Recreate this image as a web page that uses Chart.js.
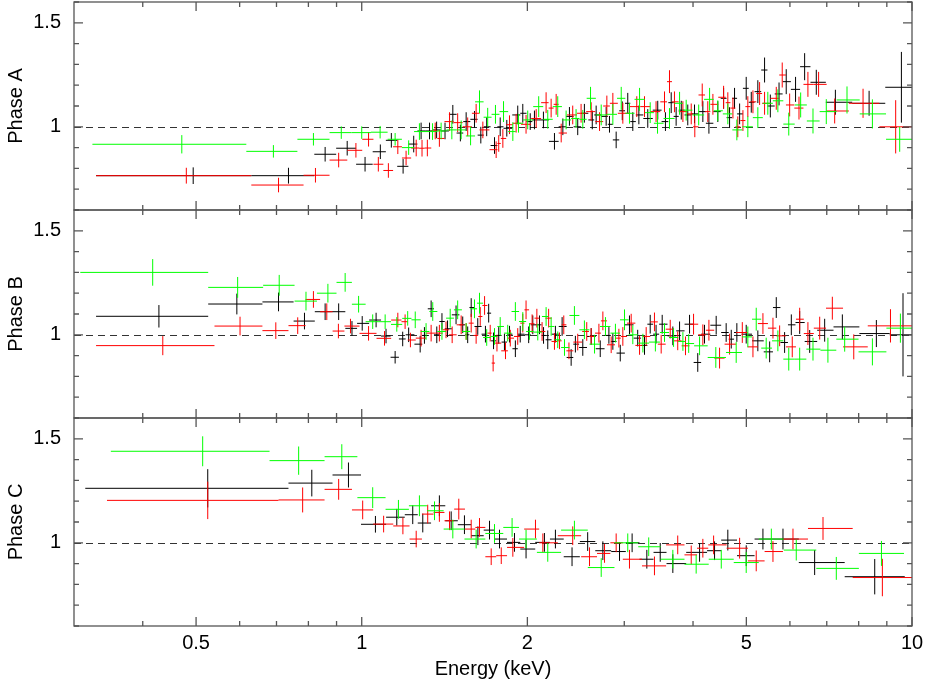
<!DOCTYPE html>
<html>
<head>
<meta charset="utf-8">
<title>Phase ratios</title>
<script src="https://cdn.jsdelivr.net/npm/chart.js@4.4.1/dist/chart.umd.min.js"></script>
<style>
  html,body{margin:0;padding:0;background:#fff;}
  #wrap{width:925px;height:679px;position:relative;}
</style>
</head>
<body>
<div id="wrap"><canvas id="chart"></canvas></div>
<script>
// each point: [energy keV, ratio, y error] or [energy, ratio, y error, bin low, bin high]
const aBlack = [
  [0.494,0.765,0.04,0.329,0.630],[0.736,0.765,0.038,0.630,0.820],[0.858,0.868,0.035],[0.941,0.897,0.035],
  [1.014,0.82,0.035],[1.081,0.88,0.035],[1.132,0.935,0.035],[1.189,0.81,0.035],[1.243,0.917,0.04],
  [1.282,0.98,0.04],[1.328,0.98,0.04],[1.368,0.985,0.04],[1.417,0.98,0.04],[1.464,1.06,0.045],
  [1.511,0.97,0.04],[1.548,1.025,0.045],[1.603,1.036,0.04],[1.646,0.96,0.04],[1.687,1.0,0.045],
  [1.743,0.91,0.04],[1.785,1.0,0.045],[1.835,0.993,0.04],[1.921,1.057,0.045],[1.962,1.065,0.045],
  [2.024,1.025,0.04],[2.060,1.033,0.045],[2.139,1.033,0.04],[2.240,0.93,0.04],[2.320,1.0,0.04],
  [2.385,1.05,0.045],[2.469,1.0,0.04],[2.539,1.065,0.045],[2.624,1.033,0.045],[2.667,1.057,0.045],
  [2.781,1.05,0.045],[2.820,1.012,0.04],[2.900,0.937,0.04],[2.975,1.077,0.045],[3.044,1.113,0.05],
  [3.109,1.025,0.045],[3.189,1.057,0.045],[3.310,1.04,0.045],[3.451,1.08,0.045],[3.564,1.025,0.045],
  [3.651,1.116,0.05],[3.727,1.05,0.045],[3.808,1.08,0.045],[3.913,1.057,0.05],[4.025,1.062,0.045],
  [4.168,1.073,0.05],[4.275,1.017,0.05],[4.437,1.073,0.05],[4.546,1.137,0.05],[4.661,1.044,0.05],
  [4.759,1.137,0.05],[4.861,1.062,0.05],[4.997,1.185,0.055],[5.104,1.118,0.05],[5.246,1.169,0.055],
  [5.396,1.273,0.06],[5.528,1.1,0.055],[5.733,1.158,0.055],[5.908,1.217,0.06],[6.143,1.18,0.06],
  [6.381,1.289,0.065],[6.700,1.214,0.06],[7.257,1.118,0.06],[8.357,1.113,0.06],[9.566,1.19,0.17]
];
const aRed = [
  [0.480,0.765,0.038,0.329,0.630],[0.706,0.72,0.035,0.630,0.784],[0.824,0.767,0.035,0.784,0.874],
  [0.908,0.84,0.035],[0.976,0.887,0.035],[1.029,0.94,0.035],[1.072,0.82,0.035],[1.118,0.79,0.035],
  [1.163,0.904,0.035],[1.204,0.85,0.035],[1.256,0.898,0.04],[1.287,0.897,0.04],[1.316,0.898,0.04],
  [1.360,0.98,0.04],[1.384,0.944,0.04],[1.444,1.025,0.045],[1.494,1.02,0.045],[1.558,1.0,0.045],
  [1.614,1.065,0.045],[1.660,0.985,0.04],[1.755,0.89,0.04],[1.774,0.92,0.04],[1.805,0.944,0.045],
  [1.856,1.01,0.045],[1.908,1.017,0.045],[1.989,1.012,0.045],[2.075,1.04,0.045],[2.163,1.116,0.05],
  [2.209,1.09,0.045],[2.256,1.108,0.05],[2.304,0.97,0.045],[2.418,1.057,0.045],[2.504,1.065,0.045],
  [2.612,1.073,0.045],[2.705,1.025,0.045],[2.789,1.10,0.05],[2.860,1.113,0.05],[2.982,1.065,0.05],
  [3.161,1.097,0.05],[3.265,1.097,0.05],[3.427,1.073,0.05],[3.550,1.12,0.05],[3.625,1.217,0.055],
  [3.701,1.12,0.05],[3.834,1.073,0.05],[3.970,1.062,0.05],[4.030,1.0,0.05],[4.157,1.153,0.055],
  [4.255,1.073,0.05],[4.347,1.108,0.05],[4.546,1.142,0.055],[4.627,1.116,0.05],[4.727,1.09,0.05],
  [4.824,1.0,0.05],[4.929,1.03,0.05],[5.031,1.097,0.05],[5.140,1.12,0.055],[5.285,1.16,0.055],
  [5.396,1.113,0.055],[5.667,1.137,0.055],[5.810,1.249,0.06],[5.993,1.105,0.055],[6.232,1.09,0.055],
  [6.469,1.204,0.06],[6.765,1.204,0.06],[7.236,1.076,0.06],[8.148,1.113,0.07],[9.34,1.0,0.128]
];
const aGreen = [
  [0.471,0.916,0.044,0.324,0.617],[0.691,0.882,0.03,0.617,0.764],[0.817,0.94,0.03,0.764,0.874],
  [0.918,0.972,0.03],[1.0,0.972,0.03],[1.080,0.974,0.03],[1.150,0.94,0.03],[1.217,0.90,0.035],
  [1.273,0.977,0.04],[1.345,0.977,0.04],[1.394,0.98,0.04],[1.458,0.985,0.045],[1.516,0.985,0.045],
  [1.577,0.956,0.045],[1.637,1.12,0.055],[1.694,1.046,0.045],[1.750,1.06,0.045],[1.810,1.073,0.05],
  [1.882,0.977,0.045],[1.927,1.017,0.045],[2.003,1.033,0.045],[2.097,1.097,0.05],[2.178,1.036,0.045],
  [2.271,1.097,0.05],[2.352,1.033,0.045],[2.452,1.04,0.045],[2.522,1.036,0.045],[2.605,1.137,0.055],
  [2.724,1.057,0.05],[2.860,1.06,0.05],[2.962,1.137,0.055],[3.066,1.065,0.05],[3.198,1.132,0.055],
  [3.344,1.068,0.05],[3.448,1.017,0.05],[3.625,1.04,0.05],[3.781,1.113,0.055],[3.887,1.08,0.05],
  [4.096,1.057,0.05],[4.287,1.132,0.055],[4.437,1.077,0.05],[4.627,1.062,0.05],[4.805,0.985,0.05],
  [5.031,1.0,0.05],[5.246,1.044,0.05],[5.470,1.113,0.055],[5.705,1.125,0.055],[5.971,1.013,0.055],
  [6.276,1.105,0.06],[6.608,1.028,0.06],[6.986,1.073,0.06],[7.619,1.129,0.065],[8.473,1.062,0.07],
  [9.498,0.94,0.06]
];
const bBlack = [
  [0.428,1.089,0.054,0.329,0.526],[0.593,1.148,0.05,0.526,0.660],[0.706,1.158,0.045,0.660,0.752],
  [0.787,1.066,0.04],[0.858,1.111,0.04],[0.908,1.111,0.04],[0.960,1.031,0.035],[1.002,1.055,0.035],
  [1.062,1.071,0.035],[1.107,0.994,0.035],[1.150,0.892,0.03],[1.187,0.98,0.035],[1.217,1.0,0.035],
  [1.277,0.955,0.04],[1.300,0.997,0.04],[1.337,1.125,0.04],[1.369,1.0,0.04],[1.399,1.064,0.04],
  [1.432,1.029,0.04],[1.484,1.096,0.045],[1.526,1.048,0.04],[1.558,1.0,0.04],[1.581,1.131,0.045],
  [1.625,1.04,0.04],[1.678,1.003,0.04],[1.701,1.104,0.045],[1.736,0.971,0.04],[1.774,0.997,0.04],
  [1.817,0.965,0.04],[1.856,1.003,0.04],[1.902,0.933,0.04],[1.941,1.003,0.04],[2.011,1.0,0.04],
  [2.046,1.048,0.045],[2.104,1.048,0.045],[2.140,0.997,0.04],[2.178,0.976,0.045],[2.249,1.003,0.04],
  [2.313,1.04,0.045],[2.402,0.891,0.04],[2.445,0.955,0.04],[2.522,0.939,0.04],[2.612,0.992,0.04],
  [2.713,0.933,0.04],[2.813,0.997,0.04],[2.860,0.968,0.04],[2.950,0.912,0.04],[3.066,1.048,0.045],
  [3.173,0.984,0.04],[3.265,0.949,0.045],[3.344,1.051,0.045],[3.427,1.003,0.045],[3.516,1.051,0.045],
  [3.676,0.995,0.045],[3.781,1.019,0.045],[3.942,1.051,0.045],[4.080,0.867,0.045],[4.197,1.003,0.045],
  [4.407,1.046,0.045],[4.595,1.011,0.045],[4.694,0.979,0.045],[4.805,1.011,0.045],[4.997,1.003,0.045],
  [5.246,0.971,0.05],[5.512,0.918,0.05],[5.667,1.131,0.05],[5.868,0.963,0.05],[6.035,1.048,0.05],
  [6.250,1.059,0.055],[6.517,0.968,0.055],[6.939,1.022,0.055],[7.472,1.038,0.06],[8.615,1.006,0.065],
  [9.631,1.0,0.2]
];
const bRed = [
  [0.435,0.948,0.046,0.329,0.540],[0.601,1.042,0.045,0.540,0.660],[0.698,1.02,0.04,0.660,0.736],
  [0.765,1.044,0.04],[0.817,1.17,0.04],[0.864,1.111,0.04],[0.907,1.018,0.035],[0.954,1.042,0.035],
  [1.029,1.007,0.035],[1.100,0.983,0.035],[1.163,1.071,0.035],[1.199,1.063,0.035],[1.226,0.975,0.035],
  [1.282,0.984,0.04],[1.337,1.008,0.04],[1.384,1.008,0.04],[1.423,1.024,0.04],[1.460,1.0,0.04],
  [1.516,1.048,0.045],[1.548,1.016,0.04],[1.581,1.056,0.045],[1.614,0.997,0.04],[1.642,1.088,0.045],
  [1.672,1.141,0.045],[1.712,1.008,0.04],[1.733,0.864,0.04],[1.761,0.96,0.04],[1.825,0.923,0.04],
  [1.862,0.984,0.04],[1.921,0.992,0.04],[1.962,1.056,0.045],[1.989,1.12,0.045],[2.040,1.053,0.045],
  [2.081,1.08,0.045],[2.127,1.016,0.045],[2.186,1.08,0.045],[2.240,0.968,0.04],[2.288,0.971,0.04],
  [2.329,1.048,0.045],[2.380,0.923,0.04],[2.469,0.965,0.04],[2.564,1.016,0.045],[2.612,0.992,0.04],
  [2.698,1.008,0.045],[2.743,1.067,0.045],[2.840,0.952,0.04],[2.933,0.984,0.045],[2.982,0.992,0.045],
  [3.088,1.056,0.045],[3.198,0.949,0.045],[3.288,0.992,0.045],[3.404,1.062,0.045],[3.501,0.955,0.045],
  [3.636,1.027,0.045],[3.752,0.971,0.045],[3.876,0.947,0.045],[4.009,1.051,0.05],[4.168,1.0,0.05],
  [4.275,1.022,0.05],[4.470,0.888,0.05],[4.661,0.955,0.05],[4.916,1.011,0.05],[5.140,0.942,0.05],
  [5.359,1.054,0.05],[5.589,1.032,0.05],[5.747,0.995,0.05],[6.059,0.942,0.05],[6.250,1.075,0.055],
  [6.469,1.006,0.055],[6.796,1.032,0.055],[7.165,1.128,0.055],[7.837,0.942,0.06],[9.139,1.043,0.08,8.31,10.0]
];
const bGreen = [
  [0.417,1.30,0.064,0.308,0.526],[0.595,1.228,0.05,0.526,0.662],[0.708,1.238,0.05,0.662,0.755],
  [0.792,1.162,0.045],[0.868,1.20,0.045],[0.933,1.252,0.045],[0.987,1.147,0.04],[1.047,1.063,0.035],
  [1.103,1.063,0.035],[1.158,1.05,0.035],[1.212,1.079,0.035],[1.251,1.072,0.04],[1.309,1.016,0.04],
  [1.346,1.112,0.045],[1.399,1.016,0.04],[1.448,1.08,0.045],[1.494,1.12,0.045],[1.548,1.016,0.04],
  [1.603,1.125,0.045],[1.637,1.152,0.05],[1.687,0.987,0.04],[1.743,0.992,0.04],[1.785,1.04,0.045],
  [1.842,1.008,0.04],[1.902,1.112,0.045],[1.962,1.064,0.045],[2.018,1.016,0.04],[2.089,1.013,0.04],
  [2.163,1.088,0.045],[2.209,1.04,0.045],[2.271,0.976,0.04],[2.336,0.939,0.04],[2.435,1.093,0.045],
  [2.539,1.024,0.045],[2.649,0.955,0.045],[2.773,1.04,0.045],[2.891,1.008,0.045],[3.003,1.072,0.05],
  [3.109,1.0,0.045],[3.243,0.96,0.045],[3.417,0.965,0.045],[3.550,1.011,0.045],[3.687,0.987,0.045],
  [3.834,0.968,0.045],[3.928,0.958,0.045],[4.111,0.947,0.045],[4.40,0.891,0.05],[4.792,0.915,0.05],
  [5.031,0.99,0.05],[5.211,1.075,0.055],[5.433,0.936,0.05],[5.705,0.971,0.05],[5.971,0.883,0.055],
  [6.250,0.883,0.055],[6.608,0.931,0.055],[7.034,0.926,0.06],[7.545,0.979,0.06],[8.473,0.918,0.065],
  [9.526,1.032,0.07]
];
const cBlack = [
  [0.525,1.262,0.092,0.3145,0.736],[0.8115,1.287,0.064,0.736,0.885],[0.946,1.326,0.06,0.885,0.997],
  [1.059,1.089,0.04],[1.158,1.123,0.04],[1.238,1.135,0.045],[1.291,1.095,0.045],[1.384,1.178,0.05],
  [1.454,1.106,0.045],[1.537,1.087,0.045],[1.626,1.034,0.045],[1.707,1.061,0.045],[1.780,1.018,0.045],
  [1.895,1.002,0.045],[1.989,0.97,0.045],[2.148,1.002,0.045],[2.249,1.018,0.045],[2.411,0.933,0.045],
  [2.574,1.006,0.045],[2.743,0.962,0.045],[2.941,0.958,0.045],[3.100,1.0,0.045],[3.297,0.921,0.045],
  [3.487,0.954,0.045],[3.676,0.9,0.045],[4.111,0.954,0.045],[4.377,0.962,0.045],[4.627,1.013,0.05],
  [4.997,0.938,0.05],[5.359,1.018,0.05],[5.828,1.018,0.05],[6.654,0.905,0.06],[8.556,0.837,0.085]
];
const cRed = [
  [0.525,1.204,0.09,0.3444,0.706],[0.781,1.206,0.06,0.706,0.856],[0.908,1.257,0.05,0.856,0.96],
  [1.004,1.158,0.045],[1.096,1.09,0.04],[1.188,1.081,0.04],[1.256,1.018,0.04],[1.318,1.138,0.045],
  [1.384,1.146,0.045],[1.444,1.106,0.045],[1.501,1.162,0.05],[1.581,1.066,0.045],[1.637,1.074,0.045],
  [1.719,0.933,0.04],[1.793,0.938,0.04],[1.882,0.978,0.045],[2.069,1.066,0.045],[2.134,1.0,0.045],
  [2.418,1.034,0.045],[2.594,0.933,0.045],[2.762,0.949,0.045],[2.900,1.0,0.045],[3.066,0.921,0.045],
  [3.404,0.889,0.045],[3.752,0.99,0.045],[3.970,0.942,0.045],[4.168,0.974,0.045],[4.360,0.99,0.045],
  [4.861,0.974,0.05],[5.211,0.913,0.05],[5.589,0.958,0.05],[6.077,1.018,0.05],[6.891,1.069,0.055],
  [8.834,0.833,0.09]
];
const cGreen = [
  [0.514,1.44,0.072,0.350,0.680],[0.768,1.395,0.068,0.680,0.856],[0.920,1.414,0.06,0.856,0.982],
  [1.047,1.217,0.05],[1.166,1.161,0.045],[1.273,1.178,0.05],[1.356,1.154,0.045],[1.464,1.066,0.045],
  [1.614,1.018,0.045],[1.743,1.045,0.045],[1.876,1.074,0.045],[1.989,1.018,0.045],[2.178,0.954,0.045],
  [2.435,1.061,0.045],[2.724,0.881,0.045],[3.044,1.0,0.045],[3.323,0.981,0.045],[3.676,0.921,0.045],
  [4.053,0.897,0.045],[4.502,0.921,0.045],[4.997,0.905,0.05],[5.551,1.018,0.05],[6.161,0.965,0.05],
  [7.285,0.877,0.055],[8.80,0.949,0.06]
];

const panels = ['Phase A','Phase B','Phase C'];
const xMajor = [0.5,1,2,5,10];
const xMinor = [0.4,0.6,0.7,0.8,0.9,3,4,6,7,8,9];
const yLabelled = [1,1.5];
const xRange = [0.3,10];
const yRange = [0.6,1.6];

// bin edges: explicit when given, else half way (in log) to the neighbours
function withBins(pts){
  return pts.map((p,i)=>{
    const prev = pts[i-1], next = pts[i+1];
    let lo = p[3], hi = p[4];
    if (lo === undefined) lo = prev ? (prev[4] ?? Math.sqrt(prev[0]*p[0])) : p[0]*p[0]/Math.sqrt(p[0]*next[0]);
    if (hi === undefined) hi = next ? (next[3] ?? Math.sqrt(p[0]*next[0])) : p[0]*p[0]/lo;
    return {x:p[0], y:p[1], dy:p[2], lo, hi};
  });
}

const FONT = '"Liberation Sans", Arial, Helvetica, sans-serif';
const colors = {black:'#000000', red:'#ff0000', green:'#00ff00'};
const axisIds = ['yA','yB','yC'];
const series = [[aBlack,aRed,aGreen],[bBlack,bRed,bGreen],[cBlack,cRed,cGreen]];

const datasets = [];
series.forEach((set,pi)=>{
  ['black','red','green'].forEach((c,ci)=>{
    datasets.push({label:panels[pi]+' '+c, data:withBins(set[ci]), yAxisID:axisIds[pi],
      borderColor:colors[c], backgroundColor:colors[c], pointRadius:0, showLine:false});
  });
});

const isLabelled = v => yLabelled.some(t=>Math.abs(t-v)<1e-6);

function yScale(i){
  return {
    type:'linear', position:'left', stack:'phase', stackWeight:1, weight:3-i,
    min:yRange[0], max:yRange[1],
    grid:{display:false, drawTicks:false}, border:{display:false},
    ticks:{stepSize:0.1, autoSkip:false, padding:13, color:'#000', font:{family:FONT,size:20},
      callback:v=> isLabelled(v) ? String(+v.toFixed(1)) : ''},
    title:{display:true, text:panels[i], color:'#000', font:{family:FONT,size:20,lineHeight:1.2}, padding:{top:4,bottom:0}},
    afterFit:s=>{ s.width = 74; s.paddingTop = 0; s.paddingBottom = 0; }
  };
}

// error crosses
const errorBars = {
  id:'errorBars',
  afterDatasetsDraw(chart){
    const ctx = chart.ctx, xs = chart.scales.x, area = chart.chartArea;
    chart.data.datasets.forEach(ds=>{
      const ys = chart.scales[ds.yAxisID];
      ctx.save();
      ctx.beginPath(); ctx.rect(area.left, ys.top, area.right-area.left, ys.bottom-ys.top); ctx.clip();
      ctx.strokeStyle = ds.borderColor; ctx.lineWidth = 1;
      ctx.beginPath();
      ds.data.forEach(p=>{
        const px = xs.getPixelForValue(p.x), py = ys.getPixelForValue(p.y);
        ctx.moveTo(xs.getPixelForValue(p.lo), py); ctx.lineTo(xs.getPixelForValue(p.hi), py);
        ctx.moveTo(px, ys.getPixelForValue(p.y-p.dy)); ctx.lineTo(px, ys.getPixelForValue(p.y+p.dy));
      });
      ctx.stroke();
      ctx.restore();
    });
  }
};

// dashed unity line, panel frames and inward ticks
const panelFrame = {
  id:'panelFrame',
  beforeDatasetsDraw(chart){
    const ctx = chart.ctx, area = chart.chartArea;
    ctx.save();
    ctx.strokeStyle = '#333'; ctx.lineWidth = 1; ctx.setLineDash([7,5]);
    axisIds.forEach(id=>{
      const y = Math.round(chart.scales[id].getPixelForValue(1)) + 0.5;
      ctx.beginPath(); ctx.moveTo(area.left, y); ctx.lineTo(area.right, y); ctx.stroke();
    });
    ctx.restore();
  },
  afterDraw(chart){
    const ctx = chart.ctx, area = chart.chartArea, xs = chart.scales.x;
    ctx.save();
    ctx.strokeStyle = '#555'; ctx.lineWidth = 1.3;
    axisIds.forEach(id=>{
      const ys = chart.scales[id], top = ys.top, bot = ys.bottom;
      ctx.strokeRect(area.left, top, area.right-area.left, bot-top);
      ctx.beginPath();
      xMajor.concat(xMinor).forEach(v=>{
        const px = xs.getPixelForValue(v), len = xMajor.includes(v) ? 9 : 5;
        ctx.moveTo(px, bot); ctx.lineTo(px, bot-len);
        ctx.moveTo(px, top); ctx.lineTo(px, top+len);
      });
      ys.ticks.forEach(t=>{
        const py = ys.getPixelForValue(t.value), len = isLabelled(t.value) ? 9 : 5;
        ctx.moveTo(area.left, py); ctx.lineTo(area.left+len, py);
        ctx.moveTo(area.right, py); ctx.lineTo(area.right-len, py);
      });
      ctx.stroke();
    });
    ctx.restore();
  }
};

new Chart(document.getElementById('chart'), {
  type:'scatter',
  data:{datasets},
  options:{
    responsive:true, maintainAspectRatio:false, animation:false,
    layout:{autoPadding:false, padding:{top:2, right:13, left:0, bottom:0}},
    plugins:{legend:{display:false}, tooltip:{enabled:false}},
    scales:{
      x:{
        type:'logarithmic', position:'bottom', min:xRange[0], max:xRange[1],
        grid:{display:false, drawTicks:false}, border:{display:false},
        afterBuildTicks:s=>{ s.ticks = xMajor.concat(xMinor).sort((a,b)=>a-b).map(v=>({value:v})); },
        ticks:{autoSkip:false, maxRotation:0, padding:5, color:'#000', font:{family:FONT,size:20},
          callback:v=> xMajor.includes(v) ? String(v) : ''},
        title:{display:true, text:'Energy (keV)', color:'#000', font:{family:FONT,size:20,lineHeight:1}, padding:{top:0,bottom:0}},
        afterFit:s=>{ s.height = 53; s.paddingLeft = 0; s.paddingRight = 0; }
      },
      yA:yScale(0), yB:yScale(1), yC:yScale(2)
    }
  },
  plugins:[panelFrame, errorBars]
});
</script>
</body>
</html>
